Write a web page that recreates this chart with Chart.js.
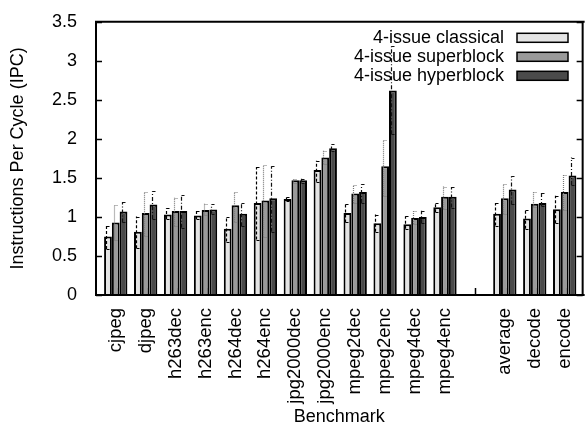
<!DOCTYPE html>
<html>
<head>
<meta charset="utf-8">
<script src="https://cdn.jsdelivr.net/npm/chart.js@4/dist/chart.umd.min.js"></script>
<style>
html,body{margin:0;padding:0;background:#fff;overflow:hidden;}
#wrap{width:588px;height:427px;overflow:hidden;position:relative;}
canvas{display:block;}
</style>
</head>
<body>
<div id="wrap"><canvas id="c" width="592" height="427"></canvas></div>
<script>
const categories = ['cjpeg','djpeg','h263dec','h263enc','h264dec','h264enc','jpg2000dec','jpg2000enc','mpeg2dec','mpeg2enc','mpeg4dec','mpeg4enc','','average','decode','encode'];
const seriesNames = ['4-issue classical','4-issue superblock','4-issue hyperblock'];
const classical  = [0.75,0.81,1.03,1.02,0.85,1.18,1.23,1.60,1.05,0.92,0.905,1.125,null,1.04,0.98,1.10];
const superblock = [0.93,1.05,1.075,1.09,1.15,1.21,1.47,1.76,1.30,1.65,0.985,1.26,null,1.24,1.17,1.32];
const hyperblock = [1.07,1.16,1.075,1.095,1.04,1.24,1.47,1.88,1.32,2.62,1.00,1.26,null,1.35,1.18,1.53];
const classicalLow  = [0.59,0.60,0.975,0.975,0.685,0.71,1.21,1.45,0.93,0.81,0.85,1.06,null,0.89,0.85,0.92];
const classicalHigh = [0.89,1.005,1.11,1.08,1.005,1.64,1.25,1.72,1.16,1.03,1.01,1.18,null,1.18,1.09,1.27];
const superLow  = [0.71,0.76,0.88,1.03,0.94,0.74,1.44,1.68,1.18,1.27,0.91,1.10,null,1.04,1.13,1.09];
const superHigh = [1.15,1.32,1.245,1.17,1.32,1.66,1.49,1.85,1.41,1.99,1.08,1.39,null,1.42,1.32,1.54];
const hyperLow  = [0.93,0.975,0.86,1.04,0.88,0.81,1.44,1.85,1.18,2.06,0.92,1.12,null,1.16,1.14,1.41];
const hyperHigh = [1.19,1.33,1.28,1.16,1.18,1.65,1.49,1.93,1.42,3.19,1.08,1.385,null,1.52,1.31,1.76];
const yTicks = [0,0.5,1,1.5,2,2.5,3,3.5];

const fills = ['#e4e4e4','#9a9a9a','#4a4a4a'];
const errStyles = [
  {color:'#000', dash:[3,2]},
  {color:'#777', dash:[1,1]},
  {color:'#111', dash:[4,2,1,2]}
];
const lows = [classicalLow, superLow, hyperLow];
const highs = [classicalHigh, superHigh, hyperHigh];

function pts(arr){ return arr.map((v,i)=>({x:i,y:v})); }

const FONT = 'Liberation Sans, Arial, Helvetica, sans-serif';

const framePlugin = {
  id:'frame',
  beforeDatasetsDraw(chart){
    const {ctx, chartArea:a, scales:{x,y}} = chart;
    ctx.save();
    ctx.strokeStyle='#000'; ctx.lineWidth=1.5;
    ctx.beginPath();
    yTicks.forEach(t=>{
      const py = Math.round(y.getPixelForValue(t))+0.5;
      ctx.moveTo(a.left, py); ctx.lineTo(a.left+6, py);
      ctx.moveTo(a.right, py); ctx.lineTo(a.right-6, py);
    });
    categories.forEach((c,i)=>{
      const px = Math.round(x.getPixelForValue(i))+0.5;
      ctx.moveTo(px, a.bottom); ctx.lineTo(px, a.bottom-7);
    });
    ctx.stroke();
    ctx.restore();
  },
  afterDatasetsDraw(chart){
    const {ctx, chartArea:a, scales:{y}} = chart;
    ctx.save();
    chart.data.datasets.forEach((ds,di)=>{
      const meta = chart.getDatasetMeta(di);
      const st = errStyles[di];
      ctx.strokeStyle = st.color; ctx.lineWidth = 1.2; ctx.setLineDash(st.dash);
      meta.data.forEach((el,i)=>{
        const lo = lows[di][i], hi = highs[di][i];
        if(lo==null||hi==null) return;
        const px = Math.round(el.x - el.width*0.25)+0.5;
        const yl = y.getPixelForValue(lo), yh = y.getPixelForValue(hi);
        ctx.beginPath();
        ctx.moveTo(px, yl); ctx.lineTo(px, yh);
        ctx.moveTo(px, Math.round(yh)+0.5); ctx.lineTo(px+3, Math.round(yh)+0.5);
        ctx.moveTo(px, Math.round(yl)+0.5); ctx.lineTo(px+3, Math.round(yl)+0.5);
        ctx.stroke();
      });
    });
    ctx.setLineDash([]);
    ctx.strokeStyle='#000'; ctx.lineWidth=2;
    ctx.beginPath();
    ctx.moveTo(a.right+2, a.top); ctx.lineTo(a.left, a.top); ctx.lineTo(a.left, a.bottom); ctx.lineTo(a.right+2, a.bottom);
    ctx.moveTo(a.right, a.top); ctx.lineTo(a.right, a.bottom);
    ctx.stroke();
    ctx.font = '18px ' + FONT;
    ctx.textAlign='right'; ctx.textBaseline='middle'; ctx.fillStyle='#000';
    chart.data.datasets.forEach((ds,di)=>{
      const cy = a.top + 16 + di*19;
      ctx.fillText(ds.label, 504, cy);
      ctx.fillStyle = ds.backgroundColor;
      ctx.fillRect(517, cy-4.5, 51, 9);
      ctx.strokeStyle='#000'; ctx.lineWidth=1.5;
      ctx.strokeRect(517, cy-4.5, 51, 9);
      ctx.fillStyle='#000';
    });
    ctx.restore();
  }
};

new Chart(document.getElementById('c'), {
  type:'bar',
  data:{
    datasets:[
      {label:seriesNames[0], data:pts(classical), backgroundColor:fills[0]},
      {label:seriesNames[1], data:pts(superblock), backgroundColor:fills[1]},
      {label:seriesNames[2], data:pts(hyperblock), backgroundColor:fills[2]}
    ].map(d=>Object.assign(d,{borderColor:'#000', borderWidth:2, categoryPercentage:0.78, barPercentage:1}))
  },
  options:{
    responsive:false, animation:false,
    layout:{padding:{top:14,right:3,left:0,bottom:0}},
    plugins:{legend:{display:false}, tooltip:{enabled:false}},
    scales:{
      x:{
        type:'linear', min:-0.66, max:15.6, offset:false,
        grid:{display:false}, border:{display:false},
        afterFit(s){ s.height = 132; },
        afterBuildTicks(s){ s.ticks = categories.map((c,i)=>({value:i})); },
        ticks:{
          autoSkip:false, minRotation:90, maxRotation:90, padding:5,
          color:'#000', font:{family:FONT, size:18.5},
          callback:(v)=>categories[v] ?? ''
        },
        title:{display:true, text:'Benchmark', color:'#000', font:{family:FONT, size:18, lineHeight:1}, padding:{top:0,bottom:1}}
      },
      y:{
        min:0, max:3.5,
        grid:{display:false}, border:{display:false},
        afterFit(s){ s.width = 96; },
        afterBuildTicks(s){ s.ticks = yTicks.map(v=>({value:v})); },
        ticks:{color:'#000', padding:11, font:{family:FONT, size:18}, callback:(v)=>String(v)},
        title:{display:true, text:'Instructions Per Cycle (IPC)', color:'#000', font:{family:FONT, size:18}, padding:{top:7,bottom:0}}
      }
    }
  },
  plugins:[framePlugin]
});
</script>
</body>
</html>
